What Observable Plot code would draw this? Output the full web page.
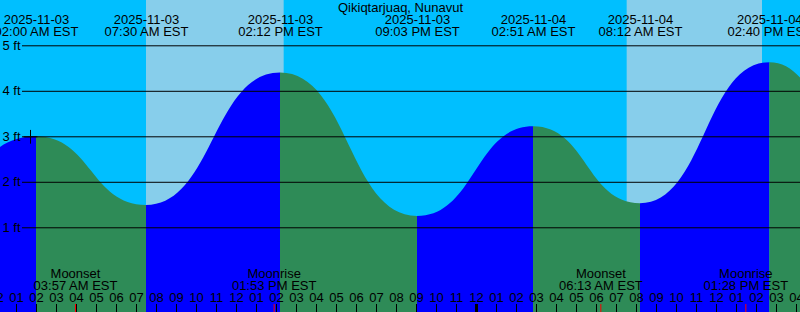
<!DOCTYPE html>
<html><head><meta charset="utf-8">
<script src="https://cdn.jsdelivr.net/npm/d3@7"></script>
<script src="https://cdn.jsdelivr.net/npm/@observablehq/plot@0.6"></script>
<style>
html,body{margin:0;padding:0;background:#fff;overflow:hidden}
#chart svg{display:block}
</style>
</head><body><div id="chart"></div>
<script>
const title = "Qikiqtarjuaq, Nunavut";
// tide extremes (EST local time), heights in ft
const tideTimes = ["2025-11-02 19:45","2025-11-03 02:00","2025-11-03 07:30","2025-11-03 14:12","2025-11-03 21:03","2025-11-04 02:51","2025-11-04 08:12","2025-11-04 14:40","2025-11-04 21:10"];
const tideHeights = [1.40, 3.00, 1.49, 4.40, 1.25, 3.22, 1.53, 4.63, 1.00];
const sunriseTimes = ["2025-11-03 07:30","2025-11-04 07:32"];
const sunsetTimes  = ["2025-11-03 14:23","2025-11-04 14:18"];
const moonEvents = ["Moonset","Moonrise","Moonset","Moonrise"];
const moonTimes  = ["2025-11-03 03:57","2025-11-03 13:53","2025-11-04 06:13","2025-11-04 13:28"];
const yTickValues = [1,2,3,4,5];
const markerTimes = ["2025-11-03 01:42"];
const markerHeights = [3];
const viewStart = "2025-11-03 00:12";
const viewEnd   = "2025-11-04 16:12";
const yDomain = [-0.862, 5.996];

const colors = {night:"#00BFFF", day:"#87CEEB", rising:"#0000FF", falling:"#2E8B57"};

const parse = d3.utcParse("%Y-%m-%d %H:%M");
const fmtDate = d3.utcFormat("%Y-%m-%d");
const fmtTime = d3.utcFormat("%I:%M %p EST");
const fmtHour = d3.utcFormat("%I");

const t0 = parse(viewStart), t1 = parse(viewEnd);
const tides = tideTimes.map((s,i)=>({t:parse(s), h:tideHeights[i]}));
const segs = [];
for (let i=0;i<tides.length-1;i++){
  const col = tides[i+1].h > tides[i].h ? colors.rising : colors.falling;
  segs.push({seg:i, t:tides[i].t, h:tides[i].h, col});
  segs.push({seg:i, t:tides[i+1].t, h:tides[i+1].h, col});
}
const visibleTides = tides.filter(d=>d.t>=t0 && d.t<=t1);
const days = sunriseTimes.map((s,i)=>({x1:parse(s), x2:parse(sunsetTimes[i])}));
const moons = moonTimes.map((s,i)=>({t:parse(s), name:moonEvents[i]}));
const hours = d3.utcHour.range(d3.utcHour.floor(t0), d3.utcHour.offset(t1,1));
const markers = markerTimes.map((s,i)=>({t:parse(s), h:markerHeights[i]}));

const font = "'Liberation Sans', Arial, sans-serif";
const txt = {fill:"#000", fontSize:13, lineAnchor:"middle"};

const chart = Plot.plot({
  width: 800, height: 312,
  margin: 0,
  style: {fontFamily: font, fontSize: "13px", background: colors.night, color:"#000"},
  x: {type:"utc", domain:[t0,t1], range:[0,800], axis:null},
  y: {domain: yDomain, range:[312,0], axis:null},
  marks: [
    Plot.frame({fill: colors.night, stroke: null}),
    Plot.rect(days, {x1:"x1", x2:"x2", fill: colors.day}),
    Plot.areaY(segs, {x:"t", y1: yDomain[0], y2:"h", z:"seg", fill:"col", curve:"bump-x", clip:true}),
    Plot.ruleY(yTickValues, {stroke:"#000", strokeWidth:1, insetLeft:22}),
    Plot.text(yTickValues, {y: d=>d, text: d=>`${d} ft`, frameAnchor:"left", textAnchor:"start", dx:2, ...txt}),
    Plot.dot(markers, {x:"t", y:"h", symbol:"plus", r:4.5, stroke:"#000", strokeWidth:1}),
    Plot.text([title], {text: d=>d, frameAnchor:"top", dy:7.5, ...txt}),
    Plot.text(visibleTides, {x:"t", text: d=>fmtDate(d.t), frameAnchor:"top", dy:19, ...txt}),
    Plot.text(visibleTides, {x:"t", text: d=>fmtTime(d.t), frameAnchor:"top", dy:31.5, ...txt}),
    Plot.text(moons, {x:"t", text:"name", frameAnchor:"bottom", dy:-38.5, ...txt}),
    Plot.text(moons, {x:"t", text: d=>fmtTime(d.t), frameAnchor:"bottom", dy:-26.5, ...txt}),
    Plot.text(hours, {x: d=>d, text: d=>fmtHour(d), frameAnchor:"bottom", dy:-14.5, ...txt}),
    Plot.ruleX(hours, {x: d=>d, insetTop:304, stroke:"#000", strokeWidth: d=>d.getUTCHours()===0 ? 3 : 1}),
    Plot.ruleX(moons, {x:"t", insetTop:304, stroke:"#FF0000", strokeWidth:1})
  ]
});
document.getElementById("chart").appendChild(chart);
</script>
</body></html>
